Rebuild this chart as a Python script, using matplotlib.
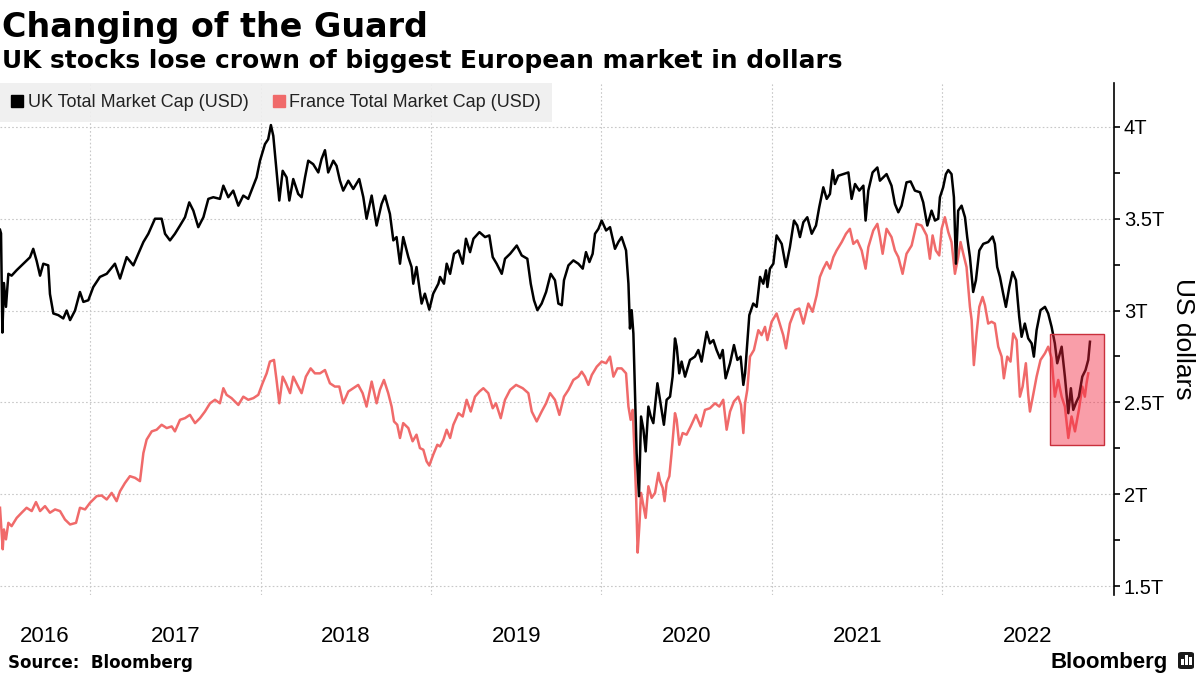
import matplotlib
matplotlib.use("Agg")
import matplotlib.pyplot as plt
import matplotlib.colors as mcolors
from matplotlib.lines import Line2D
from matplotlib.patches import Rectangle, FancyBboxPatch

# UK total market cap (USD trillions), x in fractional years
uk_years = [
    2016.472, 2016.478, 2016.486, 2016.495, 2016.507, 2016.521, 2016.540, 2016.570, 2016.609, 2016.648,
    2016.667, 2016.687, 2016.707, 2016.726, 2016.755, 2016.765, 2016.785, 2016.814, 2016.843, 2016.863,
    2016.883, 2016.912, 2016.941, 2016.961, 2016.990, 2017.019, 2017.058, 2017.098, 2017.146, 2017.176,
    2017.215, 2017.254, 2017.283, 2017.313, 2017.342, 2017.381, 2017.420, 2017.440, 2017.469, 2017.498,
    2017.528, 2017.557, 2017.582, 2017.606, 2017.635, 2017.665, 2017.694, 2017.723,
    2017.762, 2017.782, 2017.811, 2017.840, 2017.870, 2017.899, 2017.928, 2017.958, 2017.977, 2017.997,
    2018.026, 2018.045, 2018.061, 2018.075, 2018.094, 2018.110, 2018.130, 2018.153, 2018.169, 2018.192,
    2018.221, 2018.241, 2018.261, 2018.280, 2018.309, 2018.339, 2018.358, 2018.378, 2018.397, 2018.427,
    2018.446, 2018.466, 2018.485, 2018.515, 2018.544, 2018.579, 2018.603, 2018.622, 2018.652, 2018.681,
    2018.710, 2018.730, 2018.759, 2018.779, 2018.798, 2018.818, 2018.837, 2018.867, 2018.886, 2018.896,
    2018.915, 2018.935, 2018.945, 2018.964, 2018.990, 2019.013, 2019.043,
    2019.053, 2019.076, 2019.092, 2019.112, 2019.135, 2019.161, 2019.186, 2019.205, 2019.229, 2019.249,
    2019.284, 2019.317, 2019.342, 2019.362, 2019.385, 2019.415, 2019.434, 2019.464, 2019.503, 2019.532,
    2019.565, 2019.585, 2019.604, 2019.624, 2019.649, 2019.675, 2019.702, 2019.727, 2019.747, 2019.767,
    2019.780, 2019.806, 2019.835, 2019.864, 2019.890, 2019.909, 2019.929, 2019.948, 2019.962, 2019.982,
    2020.001, 2020.027, 2020.050, 2020.079, 2020.099, 2020.118, 2020.144, 2020.158, 2020.167, 2020.177,
    2020.187, 2020.197, 2020.206, 2020.220, 2020.232, 2020.246, 2020.259, 2020.275, 2020.289, 2020.304,
    2020.328,
    2020.343, 2020.366, 2020.382, 2020.402, 2020.417, 2020.431, 2020.441, 2020.456, 2020.470, 2020.490,
    2020.519, 2020.548, 2020.568, 2020.587, 2020.617, 2020.636, 2020.656, 2020.675, 2020.695, 2020.711,
    2020.728, 2020.754, 2020.777, 2020.797, 2020.816, 2020.832, 2020.842, 2020.855, 2020.867, 2020.890,
    2020.910, 2020.930, 2020.949, 2020.965, 2020.973, 2020.988, 2021.008, 2021.027, 2021.057, 2021.082,
    2021.105, 2021.129, 2021.148, 2021.164, 2021.184, 2021.207, 2021.233, 2021.258, 2021.277, 2021.301,
    2021.321, 2021.340, 2021.356, 2021.369, 2021.389, 2021.418, 2021.448, 2021.467, 2021.487, 2021.512,
    2021.536, 2021.549, 2021.565, 2021.590, 2021.618,
    2021.633, 2021.672, 2021.701, 2021.721, 2021.741, 2021.760, 2021.789, 2021.813, 2021.838, 2021.868,
    2021.887, 2021.911, 2021.936, 2021.956, 2021.975, 2021.985, 2022.004, 2022.020, 2022.034, 2022.053,
    2022.067, 2022.079, 2022.092, 2022.112, 2022.132, 2022.145, 2022.161, 2022.180, 2022.196, 2022.216,
    2022.239, 2022.268, 2022.294, 2022.307, 2022.321, 2022.337, 2022.356, 2022.372, 2022.392, 2022.411,
    2022.431, 2022.450, 2022.464, 2022.483, 2022.503, 2022.523, 2022.536, 2022.552, 2022.575, 2022.601,
    2022.620, 2022.640, 2022.659, 2022.673, 2022.699, 2022.718, 2022.738, 2022.753, 2022.767, 2022.786,
    2022.800, 2022.820, 2022.839, 2022.855, 2022.865,
]
uk_cap = [
    3.44, 3.42, 2.88, 3.15, 3.02, 3.20, 3.19, 3.22, 3.255, 3.29,
    3.336, 3.27, 3.19, 3.255, 3.246, 3.09, 2.984, 2.975, 2.957, 3.0,
    2.948, 3.0, 3.101, 3.047, 3.056, 3.128, 3.183, 3.2, 3.255, 3.174,
    3.291, 3.246, 3.309, 3.373, 3.418, 3.5, 3.5, 3.418, 3.382, 3.418,
    3.463, 3.508, 3.589, 3.544, 3.454, 3.508, 3.608, 3.617,
    3.608, 3.68, 3.617, 3.653, 3.571, 3.626, 3.608, 3.68, 3.725, 3.816,
    3.906, 3.933, 4.01, 3.951, 3.761, 3.599, 3.761, 3.725, 3.599, 3.716,
    3.635, 3.617, 3.725, 3.816, 3.797, 3.752, 3.825, 3.873, 3.752, 3.816,
    3.788, 3.707, 3.653, 3.707, 3.662, 3.716, 3.617, 3.5, 3.626, 3.463,
    3.58, 3.626, 3.526, 3.382, 3.4, 3.255, 3.4, 3.291, 3.237, 3.146,
    3.237, 3.101, 3.038, 3.092, 3.005, 3.092, 3.146,
    3.183, 3.146, 3.255, 3.2, 3.309, 3.327, 3.255, 3.391, 3.318, 3.391,
    3.427, 3.4, 3.409, 3.291, 3.255, 3.2, 3.282, 3.309, 3.354, 3.3,
    3.282, 3.146, 3.056, 3.002, 3.038, 3.101, 3.2, 3.165, 3.038, 3.029,
    3.165, 3.246, 3.273, 3.255, 3.228, 3.318, 3.264, 3.309, 3.418, 3.445,
    3.49, 3.436, 3.454, 3.336, 3.373, 3.4, 3.327, 3.146, 2.902, 3.002,
    2.875, 2.531, 2.224, 1.989, 2.423, 2.351, 2.233, 2.477, 2.423, 2.387,
    2.604,
    2.514, 2.378, 2.514, 2.531, 2.64, 2.848, 2.803, 2.658, 2.722, 2.64,
    2.731, 2.749, 2.785, 2.722, 2.884, 2.821, 2.839, 2.785, 2.74, 2.785,
    2.631, 2.713, 2.812, 2.731, 2.749, 2.595, 2.658, 2.821, 2.975, 3.038,
    3.02, 3.183, 3.146, 3.219, 3.128, 3.228, 3.255, 3.409, 3.363, 3.237,
    3.345, 3.49, 3.463, 3.4, 3.481, 3.508, 3.418, 3.463, 3.562, 3.671,
    3.608, 3.635, 3.765, 3.689, 3.734, 3.743, 3.752, 3.608, 3.689, 3.653,
    3.68, 3.49, 3.653, 3.752, 3.779,
    3.707, 3.743, 3.68, 3.58, 3.535, 3.571, 3.698, 3.703, 3.653, 3.644,
    3.589, 3.463, 3.544, 3.49, 3.5, 3.617, 3.671, 3.743, 3.765, 3.743,
    3.617, 3.255, 3.544, 3.571, 3.508, 3.4, 3.291, 3.101, 3.165, 3.327,
    3.363, 3.373, 3.403, 3.363, 3.237, 3.183, 3.092, 3.02, 3.128, 3.21,
    3.165, 2.966, 2.857, 2.929, 2.848, 2.821, 2.749, 2.893, 3.002, 3.02,
    2.984, 2.911, 2.821, 2.713, 2.803, 2.64, 2.441, 2.577, 2.459, 2.504,
    2.531, 2.64, 2.676, 2.731, 2.83,
]

# France total market cap (USD trillions)
fr_years = [
    2016.472, 2016.488, 2016.495, 2016.507, 2016.521, 2016.540, 2016.570, 2016.599, 2016.628, 2016.658,
    2016.683, 2016.707, 2016.736, 2016.765, 2016.795, 2016.824, 2016.853, 2016.883, 2016.918, 2016.941,
    2016.971, 2017.000, 2017.039, 2017.068, 2017.098, 2017.127, 2017.156, 2017.176, 2017.205, 2017.234,
    2017.264, 2017.293, 2017.313, 2017.332, 2017.362, 2017.391, 2017.420, 2017.450, 2017.479, 2017.498,
    2017.528, 2017.557, 2017.586, 2017.616, 2017.645, 2017.674, 2017.704, 2017.733,
    2017.762, 2017.782, 2017.801, 2017.830, 2017.870, 2017.899, 2017.928, 2017.958, 2017.987, 2018.012,
    2018.036, 2018.055, 2018.079, 2018.094, 2018.110, 2018.130, 2018.149, 2018.173, 2018.192, 2018.216,
    2018.241, 2018.266, 2018.294, 2018.319, 2018.349, 2018.378, 2018.407, 2018.436, 2018.462, 2018.485,
    2018.515, 2018.544, 2018.573, 2018.599, 2018.622, 2018.652, 2018.681, 2018.700, 2018.724, 2018.749,
    2018.769, 2018.783, 2018.802, 2018.818, 2018.837, 2018.867, 2018.892, 2018.915, 2018.935, 2018.955,
    2018.974, 2018.990, 2019.013, 2019.037,
    2019.053, 2019.073, 2019.092, 2019.112, 2019.131, 2019.161, 2019.186, 2019.209, 2019.233, 2019.258,
    2019.284, 2019.307, 2019.336, 2019.362, 2019.381, 2019.409, 2019.434, 2019.464, 2019.499, 2019.538,
    2019.571, 2019.591, 2019.620, 2019.649, 2019.675, 2019.698, 2019.727, 2019.753, 2019.780, 2019.806,
    2019.835, 2019.864, 2019.884, 2019.903, 2019.923, 2019.943, 2019.972, 2020.001, 2020.027, 2020.050,
    2020.070, 2020.093, 2020.118, 2020.144, 2020.158, 2020.171, 2020.183, 2020.193, 2020.203, 2020.212,
    2020.222, 2020.232, 2020.246, 2020.259, 2020.275, 2020.294, 2020.314, 2020.334,
    2020.343, 2020.359, 2020.370, 2020.382, 2020.398, 2020.411, 2020.431, 2020.441, 2020.456, 2020.476,
    2020.499, 2020.523, 2020.554, 2020.582, 2020.607, 2020.636, 2020.666, 2020.691, 2020.714, 2020.734,
    2020.754, 2020.777, 2020.802, 2020.818, 2020.832, 2020.842, 2020.855, 2020.871, 2020.894, 2020.920,
    2020.939, 2020.959, 2020.973, 2020.998, 2021.027, 2021.051, 2021.066, 2021.082, 2021.105, 2021.135,
    2021.160, 2021.184, 2021.213, 2021.238, 2021.262, 2021.281, 2021.301, 2021.321, 2021.340, 2021.360,
    2021.379, 2021.409, 2021.434, 2021.457, 2021.477, 2021.500, 2021.526, 2021.549, 2021.565, 2021.594,
    2021.618,
    2021.633, 2021.649, 2021.672, 2021.701, 2021.721, 2021.741, 2021.766, 2021.789, 2021.819, 2021.848,
    2021.877, 2021.907, 2021.926, 2021.942, 2021.961, 2021.981, 2021.995, 2022.014, 2022.034, 2022.053,
    2022.073, 2022.092, 2022.106, 2022.122, 2022.141, 2022.161, 2022.171, 2022.184, 2022.200, 2022.216,
    2022.235, 2022.249, 2022.268, 2022.288, 2022.307, 2022.327, 2022.347, 2022.360, 2022.380, 2022.399,
    2022.415, 2022.435, 2022.454, 2022.470, 2022.489, 2022.503, 2022.513, 2022.532, 2022.552, 2022.575,
    2022.601, 2022.620, 2022.640, 2022.659, 2022.679, 2022.699, 2022.718, 2022.738, 2022.757, 2022.777,
    2022.800, 2022.820, 2022.835, 2022.845, 2022.855,
]
fr_cap = [
    1.926, 1.70, 1.808, 1.754, 1.844, 1.826, 1.871, 1.899, 1.926, 1.908,
    1.957, 1.908, 1.935, 1.899, 1.917, 1.908, 1.862, 1.835, 1.844, 1.926,
    1.917, 1.953, 1.989, 1.993, 1.971, 2.007, 1.962, 2.016, 2.061, 2.098,
    2.089, 2.071, 2.224, 2.297, 2.342, 2.351, 2.378, 2.36, 2.369, 2.342,
    2.405, 2.414, 2.432, 2.387, 2.414, 2.45, 2.495, 2.514,
    2.495, 2.577, 2.541, 2.523, 2.486, 2.531, 2.514, 2.523, 2.541, 2.604,
    2.658, 2.722, 2.731, 2.622, 2.495, 2.64, 2.604, 2.55, 2.64, 2.595,
    2.55, 2.64, 2.685, 2.658, 2.658, 2.676, 2.604, 2.586, 2.586, 2.495,
    2.559, 2.577, 2.595, 2.55, 2.477, 2.613, 2.495, 2.568, 2.622, 2.55,
    2.477, 2.396, 2.378, 2.306, 2.387, 2.36, 2.288, 2.324, 2.251, 2.242,
    2.179, 2.156, 2.215, 2.269,
    2.26, 2.297, 2.351, 2.306, 2.378, 2.441, 2.423, 2.514, 2.45, 2.531,
    2.559, 2.577, 2.55, 2.468, 2.495, 2.414, 2.514, 2.568, 2.595, 2.577,
    2.55, 2.45, 2.396, 2.45, 2.495, 2.55, 2.514, 2.432, 2.531, 2.568,
    2.622, 2.64, 2.667, 2.64, 2.595, 2.649, 2.694, 2.722, 2.713, 2.749,
    2.64, 2.685, 2.685, 2.658, 2.477, 2.405, 2.459, 2.242, 1.989, 1.682,
    1.826, 2.007, 1.935, 1.871, 2.043, 1.98, 2.007, 2.116,
    2.071, 2.034, 1.962, 2.061, 2.098, 2.224, 2.441, 2.405, 2.269, 2.333,
    2.324, 2.369, 2.432, 2.369, 2.459, 2.468, 2.495, 2.477, 2.514, 2.351,
    2.45, 2.505, 2.531, 2.486, 2.333, 2.495, 2.568, 2.749, 2.785, 2.893,
    2.866, 2.911, 2.839, 2.939, 2.984, 2.911, 2.866, 2.794, 2.929, 3.002,
    3.011, 2.929, 3.038, 2.993, 3.083, 3.183, 3.228, 3.264, 3.228, 3.291,
    3.327, 3.373, 3.418, 3.445, 3.363, 3.382, 3.327, 3.228, 3.345, 3.436,
    3.472,
    3.4, 3.309, 3.445, 3.4, 3.327, 3.291, 3.2, 3.309, 3.354, 3.472,
    3.463, 3.409, 3.282, 3.409, 3.327, 3.3, 3.445, 3.508, 3.427, 3.373,
    3.2, 3.291, 3.373, 3.309, 3.237, 3.02, 2.948, 2.703, 2.875, 3.02,
    3.074, 3.029, 2.929, 2.939, 2.929, 2.803, 2.749, 2.631, 2.749, 2.722,
    2.875, 2.839, 2.531, 2.586, 2.713, 2.541, 2.45, 2.541, 2.64, 2.731,
    2.767, 2.803, 2.74, 2.531, 2.622, 2.531, 2.477, 2.306, 2.423, 2.342,
    2.459, 2.586, 2.531, 2.604, 2.658,
]

# highlighted window (years, USD trillions)
box_years = [2022.632, 2022.945]
box_cap = [2.268, 2.872]

x_range = [2016.472, 2023.006]
year_starts = [2017, 2018, 2019, 2020, 2021, 2022]
year_labels = ["2016", "2017", "2018", "2019", "2020", "2021", "2022"]
y_ticks = [1.5, 2.0, 2.5, 3.0, 3.5, 4.0]
y_minor = [1.75, 2.25, 2.75, 3.25, 3.75]

UK_COLOR = "#000000"
FR_COLOR = "#f06a6a"
SANS = ["Liberation Sans", "DejaVu Sans"]
HEAD = "DejaVu Sans"

fig = plt.figure(figsize=(12, 6.75), dpi=100)
ax = fig.add_axes([0.0, 1 - 595 / 675, 1114 / 1200, (595 - 83) / 675])

ax.plot(fr_years, fr_cap, color=FR_COLOR, lw=1.8, zorder=3, solid_joinstyle="round")
ax.plot(uk_years, uk_cap, color=UK_COLOR, lw=1.8, zorder=4, solid_joinstyle="round")

ax.add_patch(Rectangle((box_years[0], box_cap[0]), box_years[1] - box_years[0],
                       box_cap[1] - box_cap[0],
                       facecolor=mcolors.to_rgba("#f3223b", 0.44),
                       edgecolor="#c9303d", lw=1.0, zorder=5))

ax.set_xlim(x_range)
ax.set_ylim(1.451, 4.239)

for side in ["top", "left", "bottom"]:
    ax.spines[side].set_visible(False)
ax.spines["right"].set_linewidth(1.2)

# y axis on the right
ax.yaxis.tick_right()
ax.set_yticks(y_ticks)
ax.set_yticklabels([f"{v:g}T" for v in y_ticks], family=SANS)
ax.set_yticks(y_minor, minor=True)
ax.tick_params(axis="y", which="both", direction="out", length=4, width=1.2,
               pad=3, labelsize=14.5, colors="black")

# x axis: gridlines at year starts, labels in the middle of each year
label_pos = [(x_range[0] + year_starts[0]) / 2] + [y + 0.5 for y in year_starts]
ax.set_xticks(year_starts, minor=True)
ax.set_xticks(label_pos)
ax.set_xticklabels(year_labels, family=SANS)
ax.tick_params(axis="x", which="both", length=0, pad=22, labelsize=16)

ax.grid(axis="y", which="major", ls=(0, (1.5, 2)), color="#c8c8c8", lw=0.8, zorder=0)
ax.grid(axis="x", which="minor", ls=(0, (1.5, 2)), color="#c8c8c8", lw=0.8, zorder=0)

handles = [Line2D([], [], marker="s", ls="none", color=UK_COLOR, markersize=9),
           Line2D([], [], marker="s", ls="none", color=FR_COLOR, markersize=9)]
leg = ax.legend(handles, ["UK Total Market Cap (USD)", "France Total Market Cap (USD)"],
                loc="upper left", bbox_to_anchor=(0, 1), ncol=2, frameon=True,
                facecolor="#efefef", edgecolor="none", framealpha=0.9, fancybox=False,
                borderaxespad=0, prop={"family": SANS, "size": 13},
                handlelength=0.7, handletextpad=0.25, columnspacing=1.3, borderpad=0.6)
for t in leg.get_texts():
    t.set_color("#222222")
leg.set_zorder(6)

fig.text(1183 / 1200, 1 - 339 / 675, "US dollars", rotation=270, ha="center", va="center",
         fontsize=19, family=SANS)

fig.text(0.002, 1 - 37 / 675, "Changing of the Guard", fontsize=24, fontweight="bold",
         family=HEAD, va="baseline")
fig.text(0.002, 1 - 68 / 675, "UK stocks lose crown of biggest European market in dollars",
         fontsize=17.9, fontweight="bold", family=HEAD, va="baseline")
fig.text(8 / 1200, 1 - 668 / 675, "Source:  Bloomberg", fontsize=12, fontweight="bold",
         family=HEAD, va="baseline")
fig.text(1168 / 1200, 1 - 668 / 675, "Bloomberg", fontsize=16, fontweight="bold",
         family=SANS, va="baseline", ha="right")

# small logo mark
fig.patches.append(FancyBboxPatch((1178 / 1200, 1 - 669 / 675), 16 / 1200, 17 / 675,
                                  boxstyle="round,pad=0,rounding_size=0.003",
                                  transform=fig.transFigure, facecolor="#1a1a1a",
                                  edgecolor="none"))
for bx, bh in [(1181, 6), (1185, 10), (1189, 8)]:
    fig.patches.append(Rectangle((bx / 1200, 1 - 665 / 675), 2.5 / 1200, bh / 675,
                                 transform=fig.transFigure, facecolor="white",
                                 edgecolor="none"))

fig.savefig("out.png", dpi=100)
